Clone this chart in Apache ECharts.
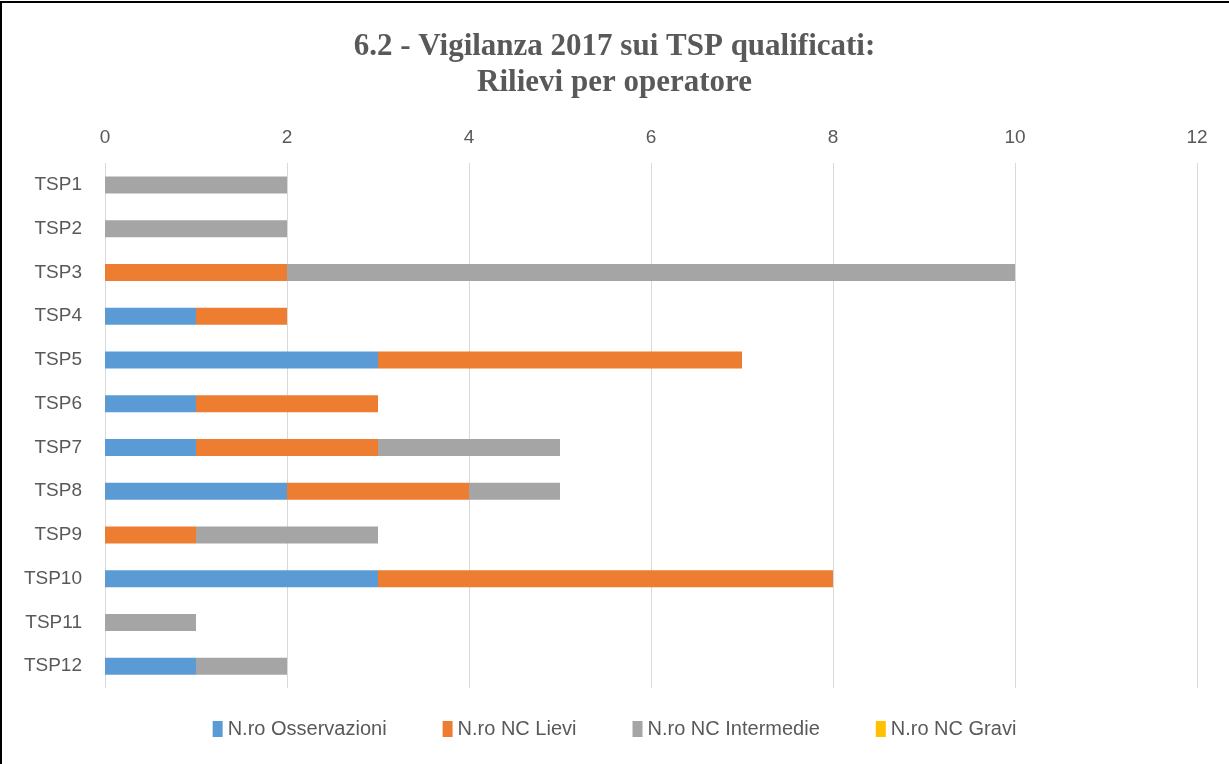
<!DOCTYPE html>
<html>
<head>
<meta charset="utf-8">
<script src="https://cdn.jsdelivr.net/npm/echarts@6/dist/echarts.min.js"></script>
<style>
  html, body { margin: 0; padding: 0; background: #fff; }
  #frame {
    position: absolute; left: 0; top: 1px; width: 1240px; height: 770px;
    border: 2px solid #000; box-sizing: border-box;
  }
  #chart { position: absolute; left: 0; top: 0; width: 1229px; height: 764px; }
</style>
</head>
<body>
<div id="frame"></div>
<div id="chart"></div>
<script>
// categorie (operatori)
const operatori = ['TSP1', 'TSP2', 'TSP3', 'TSP4', 'TSP5', 'TSP6', 'TSP7', 'TSP8', 'TSP9', 'TSP10', 'TSP11', 'TSP12']

// valori per tipo di rilievo
const osservazioni = [0, 0, 0, 1, 3, 1, 1, 2, 0, 3, 0, 1]
const ncLievi      = [0, 0, 2, 1, 4, 2, 2, 2, 1, 5, 0, 0]
const ncIntermedie = [2, 2, 8, 0, 0, 0, 2, 1, 2, 0, 1, 1]
const ncGravi      = [0, 0, 0, 0, 0, 0, 0, 0, 0, 0, 0, 0]

const chart = echarts.init(document.getElementById('chart'))

const labelFont = 'Liberation Sans, Arial, sans-serif'

function serie(name, data, color) {
  return {
    name: name,
    type: 'bar',
    stack: 'tot',
    barWidth: 17,
    data: data,
    itemStyle: { color: color }
  }
}

const option = {
  animation: false,
  title: {
    text: '6.2 - Vigilanza 2017 sui TSP qualificati:\nRilievi per operatore',
    left: 'center',
    top: 24,
    textStyle: {
      fontFamily: 'Liberation Serif, Times New Roman, serif',
      fontWeight: 'bold',
      fontSize: 31,
      lineHeight: 36,
      color: '#595959'
    }
  },
  legend: {
    bottom: 20,
    left: 'center',
    itemWidth: 10,
    itemHeight: 16,
    itemGap: 56,
    icon: 'rect',
    textStyle: { fontFamily: labelFont, fontSize: 20, color: '#595959' },
    data: ['N.ro Osservazioni', 'N.ro NC Lievi', 'N.ro NC Intermedie', 'N.ro NC Gravi']
  },
  grid: {
    left: 105,
    right: 32,
    top: 163,
    bottom: 76
  },
  xAxis: {
    type: 'value',
    position: 'top',
    min: 0,
    max: 12,
    interval: 2,
    axisLine: { show: false },
    axisTick: { show: false },
    axisLabel: { fontFamily: labelFont, fontSize: 19, color: '#595959', margin: 16 },
    splitLine: { lineStyle: { color: '#d9d9d9', width: 1 } }
  },
  yAxis: {
    type: 'category',
    inverse: true,
    data: operatori,
    axisLine: { show: false },
    axisTick: { show: false },
    axisLabel: { fontFamily: labelFont, fontSize: 19, color: '#595959', margin: 23 }
  },
  series: [
    serie('N.ro Osservazioni', osservazioni, '#5b9bd5'),
    serie('N.ro NC Lievi', ncLievi, '#ed7d31'),
    serie('N.ro NC Intermedie', ncIntermedie, '#a5a5a5'),
    serie('N.ro NC Gravi', ncGravi, '#ffc000')
  ]
}

chart.setOption(option)
</script>
</body>
</html>
